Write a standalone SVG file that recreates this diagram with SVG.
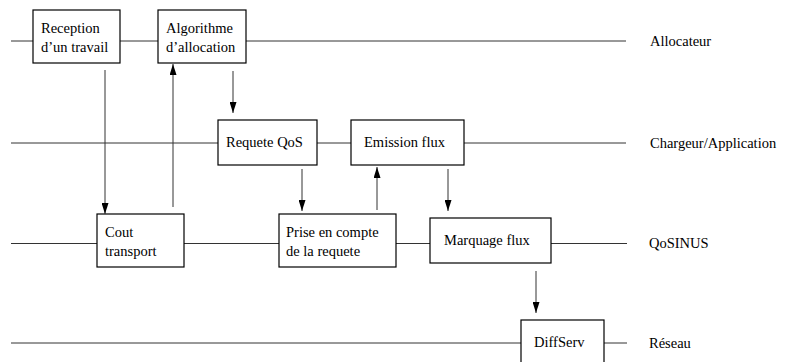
<svg xmlns="http://www.w3.org/2000/svg" width="785" height="362" viewBox="0 0 785 362">
<style>
.box{fill:#fff;stroke:#000;stroke-width:1.2}
.ln{stroke:#333;stroke-width:1;fill:none}
.ar{stroke:#333;stroke-width:1;fill:none;marker-end:url(#ah)}
text{font-family:"Liberation Serif","Times New Roman",serif;font-size:14.5px;fill:#000}
</style>
<defs>
<marker id="ah" markerUnits="userSpaceOnUse" markerWidth="11" markerHeight="7" refX="11" refY="3.5" orient="auto">
<path d="M0,0 L11,3.5 L0,7 z" fill="#000"/>
</marker>
</defs>
<rect width="785" height="362" fill="#fff"/>
<g id="layers">
<path class="ln" d="M11,41H33M120,41H158M246,41H626"/>
<path class="ln" d="M11,143H218M317,143H351M464,143H626"/>
<path class="ln" d="M11,243.5H97M184,243.5H279M396,243.5H430M551,243.5H627"/>
<path class="ln" d="M11,343H521M604,343H627"/>
<text x="650" y="46">Allocateur</text>
<text x="650" y="148">Chargeur/Application</text>
<text x="649" y="248">QoSINUS</text>
<text x="649" y="348">Réseau</text>
</g>
<g id="reception"><rect class="box" x="33" y="10" width="87" height="53"/><text x="41" y="33">Reception</text><text x="41" y="52">d’un travail</text></g>
<g id="algorithme"><rect class="box" x="158" y="10" width="88" height="53"/><text x="166" y="33">Algorithme</text><text x="166" y="52">d’allocation</text></g>
<g id="requete"><rect class="box" x="218" y="120" width="99" height="45"/><text x="226" y="147">Requete QoS</text></g>
<g id="emission"><rect class="box" x="351" y="120" width="113" height="45"/><text x="364" y="147">Emission flux</text></g>
<g id="cout"><rect class="box" x="97" y="214" width="87" height="53"/><text x="105" y="237">Cout</text><text x="105" y="256">transport</text></g>
<g id="prise"><rect class="box" x="279" y="214" width="117" height="53"/><text x="286" y="237">Prise en compte</text><text x="286" y="256">de la requete</text></g>
<g id="marquage"><rect class="box" x="430" y="218" width="121" height="45"/><text x="444" y="245">Marquage flux</text></g>
<g id="diffserv"><rect class="box" x="521" y="320" width="83" height="45"/><text x="534" y="347">DiffServ</text></g>
<g id="connectors">
<line class="ar" x1="105" y1="70" x2="105" y2="214"/>
<line class="ar" x1="173" y1="207" x2="173" y2="64"/>
<line class="ar" x1="233" y1="71" x2="233" y2="113"/>
<line class="ar" x1="302" y1="169" x2="302" y2="211"/>
<line class="ar" x1="377" y1="210" x2="377" y2="167"/>
<line class="ar" x1="448" y1="169" x2="448" y2="211"/>
<line class="ar" x1="536" y1="271" x2="536" y2="313"/>
</g>
</svg>
